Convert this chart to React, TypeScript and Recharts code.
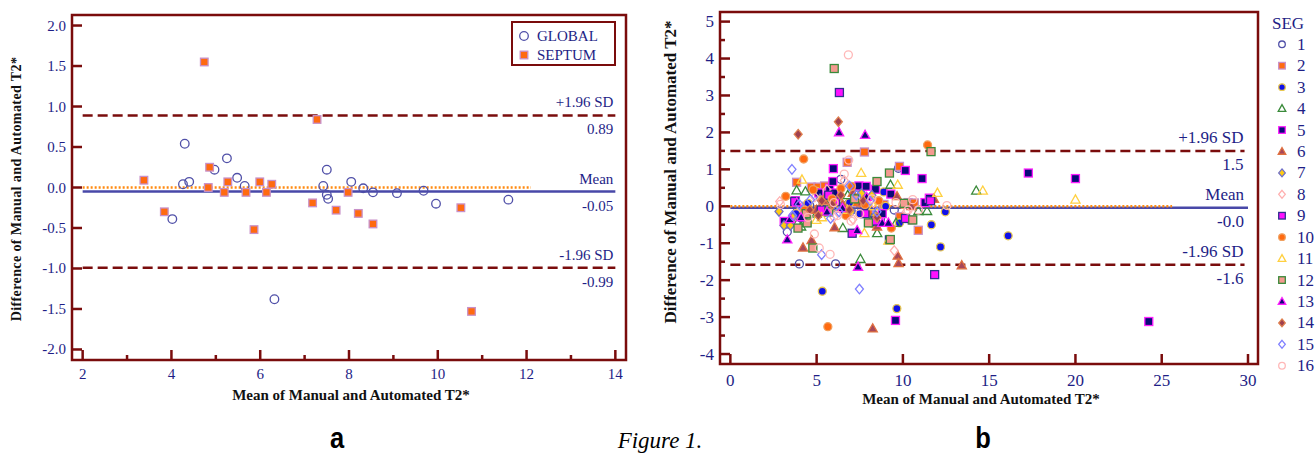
import React from 'react';
import { ScatterChart, Scatter, XAxis, YAxis, ReferenceLine, ReferenceArea } from 'recharts';

const MAROON = '#7a0c0c';
const NAVY = '#1e1e86';
const SERIF = '"Liberation Serif", "Times New Roman", serif';

// ---- panel a: global vs septum
const globalX = [4.30, 4.26, 4.40, 4.02, 4.97, 5.25, 5.48, 5.65, 6.32, 7.42, 7.50, 7.50, 7.53, 8.05, 8.32, 8.54, 9.08, 9.68, 9.96, 11.59];
const globalY = [0.54, 0.04, 0.07, -0.39, 0.22, 0.36, 0.12, 0.02, -1.38, 0.02, 0.22, -0.09, -0.14, 0.07, -0.01, -0.06, -0.07, -0.04, -0.20, -0.15];
const septumX = [3.38, 3.84, 4.74, 4.86, 4.83, 5.19, 5.27, 5.68, 5.86, 5.99, 6.14, 6.26, 7.18, 7.28, 7.71, 7.98, 8.21, 8.54, 10.52, 10.76];
const septumY = [0.09, -0.30, 1.55, 0.25, 0.00, -0.06, 0.07, -0.06, -0.52, 0.07, -0.06, 0.04, -0.19, 0.84, -0.28, -0.06, -0.32, -0.45, -0.25, -1.53];
const aStats = { upper: 0.89, mean: -0.05, lower: -0.99, zero: 0 };
const aTicksX = [2, 3, 4, 5, 6, 7, 8, 9, 10, 11, 12, 13, 14];
const aTicksY = [-2, -1.5, -1, -0.5, 0, 0.5, 1, 1.5, 2];

// ---- panel b: 16 segments, [mean, difference]
const seg1 = [[3.3, -0.69], [3.9, -0.1], [4.0, -1.56], [4.2, -0.08], [4.6, 0.02], [5.5, -0.15], [5.9, 0.1], [6.1, -1.56], [6.4, 0.73], [6.8, 0.05], [7.0, -0.12], [7.6, -0.05], [8.2, -0.15], [8.7, -0.35], [9.5, -0.1], [9.74, 1.03]];
const seg2 = [[3.84, 0.65], [4.4, 0.0], [4.69, 0.52], [5.08, 0.52], [5.46, 0.55], [5.6, 0.25], [6.2, -0.05], [6.77, 1.19], [7.2, 0.1], [7.77, 1.47], [8.0, -0.2], [8.9, 0.05], [9.8, 1.08], [9.82, -0.28], [10.3, 0.1], [10.52, -0.37], [10.66, 0.09], [10.89, -0.65]];
const seg3 = [[3.8, -0.2], [4.5, 0.08], [5.0, 0.4], [5.33, -2.3], [6.0, 0.0], [6.91, 0.1], [7.5, -0.2], [8.22, -0.46], [8.89, 0.39], [9.0, 0.0], [9.65, -2.77], [9.8, -0.45], [11.65, -0.5], [12.18, -1.1], [12.46, -0.15], [16.1, -0.8]];
const seg4 = [[3.84, 0.43], [3.9, -0.45], [4.1, -0.55], [4.35, 0.4], [5.0, -0.2], [5.5, 0.1], [6.52, -0.59], [6.8, 0.3], [7.5, 0.5], [7.54, -1.43], [8.2, -0.35], [8.51, -0.73], [9.28, 0.58], [9.6, -0.45], [10.9, -0.13], [11.4, -0.13], [14.25, 0.42]];
const seg5 = [[3.12, -0.41], [3.77, 0.15], [5.13, 0.36], [5.75, 0.49], [5.94, 0.67], [5.97, 1.02], [6.0, 0.36], [6.6, -0.1], [7.45, 0.55], [7.87, 0.54], [8.41, 0.46], [8.8, -0.2], [9.3, 0.33], [9.57, -3.09], [10.14, 0.97], [11.11, 0.75], [11.28, 0.1], [11.53, 0.22], [17.27, 0.9], [20.0, 0.75], [24.25, -3.12]];
const seg6 = [[4.21, -1.12], [4.71, -0.92], [5.0, -0.1], [5.4, 0.15], [6.04, -0.57], [6.5, 0.05], [7.1, 0.36], [7.6, 0.1], [8.25, -3.31], [8.5, -0.55], [9.66, 0.27], [9.7, -1.34], [9.75, -1.54], [10.5, 0.0], [11.8, 0.2], [13.41, -1.6]];
const seg7 = [[2.82, -0.14], [3.11, -0.52], [3.48, -0.52], [3.62, -0.3], [4.3, -0.1], [5.2, 0.2], [5.8, -0.05], [6.2, 0.05], [7.0, -0.15], [7.6, 0.35], [8.2, 0.3], [8.4, -0.25]];
const seg8 = [[2.86, 0.13], [4.1, -0.05], [4.9, 0.25], [5.6, 0.45], [6.0, -0.3], [6.6, 0.7], [7.1, -0.35], [7.9, 0.2], [8.3, 0.1], [9.5, -1.2], [10.2, -0.15]];
const seg9 = [[3.73, 0.13], [4.2, -0.3], [5.27, -0.1], [5.7, 0.3], [6.1, 0.12], [6.32, 3.08], [7.06, -0.73], [7.8, -0.2], [8.4, -0.4], [9.22, -0.91], [10.15, -0.33], [11.6, 0.15], [11.84, -1.85]];
const seg10 = [[3.21, 0.27], [4.25, 1.28], [4.3, -0.1], [4.8, 0.45], [5.65, -3.26], [5.9, 0.2], [6.41, 0.48], [6.7, -0.25], [7.02, 0.54], [7.8, 0.05], [8.6, 0.15], [9.33, -0.59], [10.0, 0.05], [11.43, 1.66]];
const seg11 = [[4.15, 0.72], [4.98, -0.37], [5.3, -0.3], [6.8, -0.1], [7.58, 0.9], [7.77, -0.73], [8.3, 0.0], [9.16, -0.93], [9.7, 0.58], [12.0, 0.36], [14.63, 0.42], [20.0, 0.18]];
const seg12 = [[3.92, -0.59], [4.4, -0.2], [4.45, -0.45], [4.78, -1.13], [5.7, -0.15], [6.02, 3.73], [7.2, 0.2], [8.0, -0.45], [8.5, 0.67], [9.22, 0.9], [9.27, -0.9], [10.07, 0.08], [10.57, -0.37], [11.63, 1.48]];
const seg13 = [[3.3, -0.9], [3.45, -0.35], [3.85, 0.1], [4.1, -0.3], [5.6, -0.15], [6.3, 2.0], [6.5, -0.05], [7.35, -0.65], [7.4, -1.64], [7.81, 1.93], [7.9, 0.25], [8.8, -0.45], [9.16, -0.45]];
const seg14 = [[3.93, 1.95], [4.6, -0.1], [5.1, -0.25], [5.3, 0.15], [5.9, 0.05], [6.26, 2.29], [6.4, 0.3], [6.9, -0.1], [7.7, 0.15], [8.5, -0.3]];
const seg15 = [[3.57, 1.0], [3.6, -0.25], [4.0, 0.05], [4.65, 0.18], [5.29, -1.31], [5.81, -0.33], [6.3, -0.15], [6.9, 0.55], [7.3, 0.3], [7.48, -2.24], [8.1, 0.15], [8.5, -0.15]];
const seg16 = [[2.9, 0.05], [4.5, -0.3], [4.87, -0.75], [5.15, -1.13], [5.78, -1.3], [6.0, 0.1], [6.2, -0.25], [6.6, 0.87], [6.86, 1.25], [6.84, 4.1], [7.0, -0.4], [7.5, -0.2], [8.2, 0.2], [9.6, 0.1], [10.3, -0.1], [10.57, 0.18], [10.9, -0.1], [12.55, 0.02]];
const segments = [seg1, seg2, seg3, seg4, seg5, seg6, seg7, seg8, seg9, seg10, seg11, seg12, seg13, seg14, seg15, seg16];
const segNames = ['1', '2', '3', '4', '5', '6', '7', '8', '9', '10', '11', '12', '13', '14', '15', '16'];
const bStats = { upper: 1.5, mean: -0.04, lower: -1.58, zero: 0 };
const bTicksX = [0, 5, 10, 15, 20, 25, 30];
const bTicksY = [-4, -3.5, -3, -2.5, -2, -1.5, -1, -0.5, 0, 0.5, 1, 1.5, 2, 2.5, 3, 3.5, 4, 4.5, 5];

type Kind = 'circle' | 'square' | 'triangle' | 'diamond';
type MarkStyle = { kind: Kind; fill: string; stroke: string };

const segStyles: MarkStyle[] = [
  { kind: 'circle', fill: 'none', stroke: '#5050a8' },
  { kind: 'square', fill: '#ff6a10', stroke: '#c890c8' },
  { kind: 'circle', fill: '#1010e8', stroke: '#e8c850' },
  { kind: 'triangle', fill: 'none', stroke: '#3a8a3a' },
  { kind: 'square', fill: '#0a0a78', stroke: '#ff20ff' },
  { kind: 'triangle', fill: '#a8485a', stroke: '#e07040' },
  { kind: 'diamond', fill: '#ffcc10', stroke: '#7070c8' },
  { kind: 'diamond', fill: 'none', stroke: '#ffb0b0' },
  { kind: 'square', fill: '#ff10ff', stroke: '#303090' },
  { kind: 'circle', fill: '#ff6a10', stroke: '#f0a060' },
  { kind: 'triangle', fill: 'none', stroke: '#ffd040' },
  { kind: 'square', fill: '#f49a90', stroke: '#3a8a3a' },
  { kind: 'triangle', fill: '#10087a', stroke: '#ff20ff' },
  { kind: 'diamond', fill: '#a0404e', stroke: '#e08050' },
  { kind: 'diamond', fill: 'none', stroke: '#8080ff' },
  { kind: 'circle', fill: 'none', stroke: '#ffb8b8' },
];

const globalStyle: MarkStyle = { kind: 'circle', fill: 'none', stroke: '#5050a8' };
const septumStyle: MarkStyle = { kind: 'square', fill: '#ff6a10', stroke: '#c890c8' };

function Mark({ cx, cy, s, r }: { cx: number; cy: number; s: MarkStyle; r: number }) {
  const common = { fill: s.fill, stroke: s.stroke, strokeWidth: 1.3 };
  if (s.kind === 'circle') return <circle cx={cx} cy={cy} r={r} {...common} />;
  if (s.kind === 'square') return <rect x={cx - r} y={cy - r} width={2 * r} height={2 * r} {...common} />;
  if (s.kind === 'triangle')
    return <polygon points={`${cx},${cy - r * 1.2} ${cx + r * 1.15},${cy + r * 0.85} ${cx - r * 1.15},${cy + r * 0.85}`} {...common} />;
  return <polygon points={`${cx},${cy - r * 1.2} ${cx + r},${cy} ${cx},${cy + r * 1.2} ${cx - r},${cy}`} {...common} />;
}

const toPoints = (xs: number[], ys: number[]) => xs.map((x, i) => ({ x, y: ys[i] }));
const pairPoints = (p: number[][]) => p.map(([x, y]) => ({ x, y }));

// text tags at the right end of the limit lines
function LineTag(props: any) {
  const { viewBox, top, bottom, fs, dx } = props;
  const xr = viewBox.x + viewBox.width + dx;
  const y = viewBox.y;
  const st = { fontFamily: SERIF, fontSize: fs, fill: NAVY };
  return (
    <g>
      <text x={xr} y={y - 13} textAnchor="end" dominantBaseline="central" style={st}>{top}</text>
      <text x={xr} y={y + 14} textAnchor="end" dominantBaseline="central" style={st}>{bottom}</text>
    </g>
  );
}

const makeYTick = (isMajor: (v: number) => boolean, fmt: (v: number) => string, fs: number) => (p: any) => {
  const v = p.payload.value;
  const major = isMajor(v);
  return (
    <g>
      <line x1={p.x} y1={p.y} x2={p.x + (major ? 10 : 5)} y2={p.y} stroke={MAROON} strokeWidth={2.5} />
      {major && (
        <text x={p.x - 6} y={p.y} textAnchor="end" dominantBaseline="central" style={{ fontFamily: SERIF, fontSize: fs, fill: NAVY }}>
          {fmt(v)}
        </text>
      )}
    </g>
  );
};

const makeXTick = (isMajor: (v: number) => boolean, fs: number, gap: number) => (p: any) => {
  const v = p.payload.value;
  const major = isMajor(v);
  return (
    <g>
      <line x1={p.x} y1={p.y} x2={p.x} y2={p.y - (major ? 10 : 5)} stroke={MAROON} strokeWidth={2.5} />
      {major && (
        <text x={p.x} y={p.y + gap} textAnchor="middle" dominantBaseline="central" style={{ fontFamily: SERIF, fontSize: fs, fill: NAVY }}>
          {String(v)}
        </text>
      )}
    </g>
  );
};

const titleStyle: React.CSSProperties = {
  position: 'absolute',
  fontFamily: SERIF,
  fontWeight: 'bold',
  color: '#111',
  whiteSpace: 'nowrap',
  lineHeight: 1,
  transform: 'translate(-50%, -50%)',
};

const capStyle: React.CSSProperties = {
  ...titleStyle,
  fontSize: 30,
  fontFamily: '"Liberation Sans", Arial, sans-serif',
  color: '#000',
  transform: 'translate(-50%, -50%) scaleX(0.85)',
};

export default function App() {
  const aX: [number, number] = [1.76, 14.24];
  const aY: [number, number] = [-2.13, 2.13];
  const bX: [number, number] = [-0.6, 30.58];
  const bY: [number, number] = [-4.27, 5.26];

  return (
    <div style={{ position: 'absolute', left: 0, top: 0, width: 1316, height: 454, background: '#fff', overflow: 'hidden' }}>
      {/* panel a */}
      <div style={{ position: 'absolute', left: 0, top: 0 }}>
        <ScatterChart width={640} height={400} margin={{ top: 15, right: 14, bottom: 10, left: 0 }}>
          <XAxis type="number" dataKey="x" domain={aX} allowDataOverflow ticks={aTicksX} interval={0}
            axisLine={false} tickLine={false} tickSize={0} tickMargin={0} height={30}
            tick={makeXTick((v) => v % 2 === 0, 15, 14)} />
          <YAxis type="number" dataKey="y" domain={aY} allowDataOverflow ticks={aTicksY} interval={0}
            axisLine={false} tickLine={false} tickSize={0} tickMargin={0} width={72}
            tick={makeYTick(() => true, (v) => v.toFixed(1), 15)} />
          <ReferenceArea x1={aX[0]} x2={aX[1]} y1={aY[0]} y2={aY[1]} fill="none" stroke={MAROON} strokeWidth={2.5} ifOverflow="visible" />
          <ReferenceLine segment={[{ x: 2, y: aStats.upper }, { x: 14, y: aStats.upper }]} stroke={MAROON} strokeWidth={2.5} strokeDasharray="10 5"
            label={<LineTag top="+1.96 SD" bottom="0.89" fs={15} dx={-2} />} />
          <ReferenceLine segment={[{ x: 2, y: aStats.lower }, { x: 14, y: aStats.lower }]} stroke={MAROON} strokeWidth={2.5} strokeDasharray="10 5"
            label={<LineTag top="-1.96 SD" bottom="-0.99" fs={15} dx={-2} />} />
          <ReferenceLine segment={[{ x: 2, y: aStats.mean }, { x: 14, y: aStats.mean }]} stroke="#4848a8" strokeWidth={2.5}
            label={<LineTag top="Mean" bottom="-0.05" fs={15} dx={-2} />} />
          <ReferenceLine segment={[{ x: 2, y: aStats.zero }, { x: 12.1, y: aStats.zero }]} stroke="#ff8a10" strokeWidth={2.5} strokeDasharray="2 2" />
          <Scatter name="GLOBAL" data={toPoints(globalX, globalY)} isAnimationActive={false}
            shape={(p: any) => <Mark cx={p.cx} cy={p.cy} s={globalStyle} r={4.3} />} />
          <Scatter name="SEPTUM" data={toPoints(septumX, septumY)} isAnimationActive={false}
            shape={(p: any) => <Mark cx={p.cx} cy={p.cy} s={septumStyle} r={3.8} />} />
        </ScatterChart>
      </div>
      <svg style={{ position: 'absolute', left: 510, top: 20 }} width={108} height={48}>
        <rect x={2} y={2} width={103} height={43} fill="#fff" stroke={MAROON} strokeWidth={2} />
        <Mark cx={14} cy={16} s={globalStyle} r={4.3} />
        <text x={27} y={16} dominantBaseline="central" style={{ fontFamily: SERIF, fontSize: 15, fill: NAVY }}>GLOBAL</text>
        <Mark cx={14} cy={35} s={septumStyle} r={3.8} />
        <text x={27} y={35} dominantBaseline="central" style={{ fontFamily: SERIF, fontSize: 15, fill: NAVY }}>SEPTUM</text>
      </svg>
      <div style={{ ...titleStyle, left: 17, top: 189, fontSize: 14, letterSpacing: 0.4, transform: 'translate(-50%, -50%) rotate(-90deg)' }}>
        Difference of Manual and Automated T2*
      </div>
      <div style={{ ...titleStyle, left: 351, top: 395, fontSize: 15 }}>Mean of Manual and Automated T2*</div>

      {/* panel b */}
      <div style={{ position: 'absolute', left: 660, top: 0 }}>
        <ScatterChart width={656} height={420} margin={{ top: 12, right: 58, bottom: 26, left: 0 }}>
          <XAxis type="number" dataKey="x" domain={bX} allowDataOverflow ticks={bTicksX} interval={0}
            axisLine={false} tickLine={false} tickSize={0} tickMargin={0} height={30}
            tick={makeXTick(() => true, 17, 16)} />
          <YAxis type="number" dataKey="y" domain={bY} allowDataOverflow ticks={bTicksY} interval={0}
            axisLine={false} tickLine={false} tickSize={0} tickMargin={0} width={60}
            tick={makeYTick((v) => Number.isInteger(v), (v) => String(v), 17)} />
          <ReferenceArea x1={bX[0]} x2={bX[1]} y1={bY[0]} y2={bY[1]} fill="none" stroke={MAROON} strokeWidth={2.5} ifOverflow="visible" />
          <ReferenceLine segment={[{ x: 0, y: bStats.upper }, { x: 29.8, y: bStats.upper }]} stroke={MAROON} strokeWidth={2.5} strokeDasharray="10 5"
            label={<LineTag top="+1.96 SD" bottom="1.5" fs={17} dx={-1} />} />
          <ReferenceLine segment={[{ x: 0, y: bStats.lower }, { x: 29.8, y: bStats.lower }]} stroke={MAROON} strokeWidth={2.5} strokeDasharray="10 5"
            label={<LineTag top="-1.96 SD" bottom="-1.6" fs={17} dx={-1} />} />
          <ReferenceLine segment={[{ x: 0, y: bStats.mean }, { x: 30, y: bStats.mean }]} stroke="#4848a8" strokeWidth={2.5}
            label={<LineTag top="Mean" bottom="-0.0" fs={17} dx={-4} />} />
          <ReferenceLine segment={[{ x: 0, y: bStats.zero }, { x: 25.6, y: bStats.zero }]} stroke="#ff8a10" strokeWidth={2.5} strokeDasharray="2 2" />
          {segments.map((seg, i) => (
            <Scatter key={segNames[i]} name={segNames[i]} data={pairPoints(seg)} isAnimationActive={false}
              shape={(p: any) => <Mark cx={p.cx} cy={p.cy} s={segStyles[i]} r={4} />} />
          ))}
        </ScatterChart>
      </div>
      <svg style={{ position: 'absolute', left: 1266, top: 0 }} width={50} height={380}>
        <text x={22} y={23} textAnchor="middle" dominantBaseline="central" style={{ fontFamily: SERIF, fontSize: 17, fill: NAVY }}>SEG</text>
        {segNames.map((n, i) => (
          <g key={n}>
            <Mark cx={16} cy={44.3 + i * 21.43} s={segStyles[i]} r={3.3} />
            <text x={31} y={44.3 + i * 21.43} dominantBaseline="central" style={{ fontFamily: SERIF, fontSize: 17, fill: NAVY }}>{n}</text>
          </g>
        ))}
      </svg>
      <div style={{ ...titleStyle, left: 670, top: 172, fontSize: 17, transform: 'translate(-50%, -50%) rotate(-90deg)' }}>
        Difference of Manual and Automated T2*
      </div>
      <div style={{ ...titleStyle, left: 981, top: 399, fontSize: 15 }}>Mean of Manual and Automated T2*</div>

      {/* captions */}
      <div style={{ ...capStyle, left: 337, top: 438 }}>a</div>
      <div style={{ ...titleStyle, left: 660, top: 440, fontSize: 23, fontWeight: 'normal', fontStyle: 'italic', color: '#000', fontFamily: '"Liberation Serif", "DejaVu Serif", serif' }}>Figure 1.</div>
      <div style={{ ...capStyle, left: 983, top: 438 }}>b</div>
    </div>
  );
}
